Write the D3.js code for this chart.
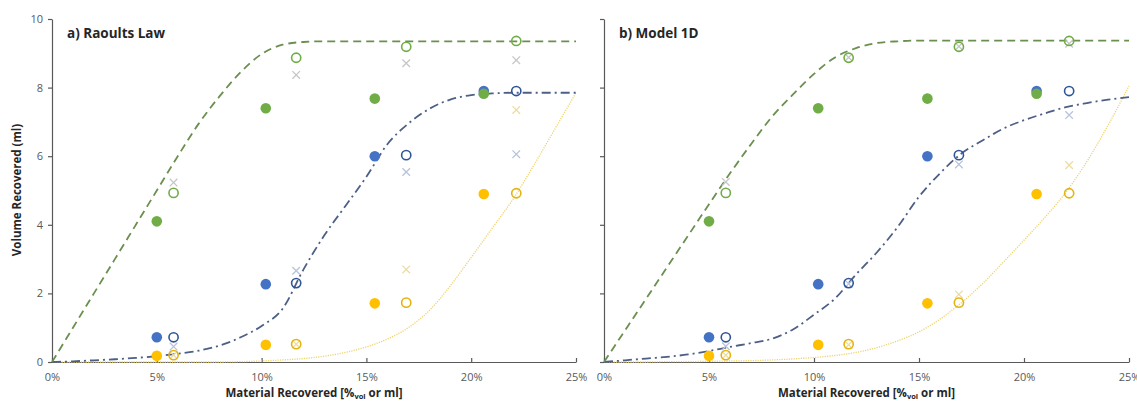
<!DOCTYPE html>
<html>
<head>
<meta charset="utf-8">
<script src="https://cdn.jsdelivr.net/npm/d3@7"></script>
<style>
  html, body { margin: 0; padding: 0; background: #fff; }
  svg { display: block; }
</style>
</head>
<body>
<svg id="chart" width="1137" height="403"></svg>
<script>
// ---------- data ----------
const xTicks = [0, 5, 10, 15, 20, 25];
const yTicks = [0, 2, 4, 6, 8, 10];
const xTickLabels = ["0%", "5%", "10%", "15%", "20%", "25%"];
const yTickLabels = ["0", "2", "4", "6", "8", "10"];
const panelTitles = ["a) Raoults Law", "b) Model 1D"];

// experiment points (filled circles)
const filledX = [5.0, 10.2, 15.4, 20.6];
const filledGreen = [4.1, 7.4, 7.68, 7.82];
const filledBlue = [0.72, 2.27, 6.0, 7.9];
const filledYellow = [0.18, 0.5, 1.71, 4.9];

// second experiment (open circles)
const openX = [5.8, 11.65, 16.9, 22.15];
const openGreen = [4.93, 8.87, 9.19, 9.36];
const openBlue = [0.72, 2.3, 6.03, 7.9];
const openYellow = [0.2, 0.52, 1.73, 4.92];

// model predictions (crosses)
const crossGreenA = [5.23, 8.37, 8.71, 8.8];
const crossBlueA = [0.45, 2.66, 5.54, 6.06];
const crossYellowA = [0.2, 0.52, 2.7, 7.35];
const crossGreenB = [5.25, 8.88, 9.2, 9.28];
const crossBlueB = [0.46, 2.28, 5.76, 7.2];
const crossYellowB = [0.2, 0.5, 1.97, 5.74];

// model curves
const curveX = [0,1,2,3,4,5,6,7,8,9,10,11,12,13,14,15,16,17,18,19,20,21,22,23,24,25];
const curveGreenA = [0,1.0,2.0,3.0,4.0,5.0,6.0,6.95,7.75,8.45,8.98,9.25,9.33,9.35,9.35,9.35,9.35,9.35,9.35,9.35,9.35,9.35,9.35,9.35,9.35,9.35];
const curveBlueA = [0,0.02,0.05,0.08,0.12,0.17,0.24,0.33,0.48,0.72,1.05,1.55,2.7,3.7,4.55,5.4,6.35,6.95,7.38,7.65,7.78,7.83,7.85,7.85,7.85,7.85];
const curveYellowA = [0,0,0,0,0,0,0,0,0,0.01,0.03,0.06,0.1,0.17,0.28,0.44,0.67,1.0,1.5,2.22,3.05,3.9,4.75,5.75,6.8,7.85];
const curveGreenB = [0,0.92,1.84,2.76,3.68,4.6,5.5,6.35,7.15,7.8,8.4,8.88,9.15,9.3,9.35,9.37,9.37,9.37,9.37,9.37,9.37,9.37,9.37,9.37,9.37,9.37];
const curveBlueB = [0,0.05,0.1,0.15,0.22,0.32,0.44,0.55,0.68,0.95,1.38,1.85,2.55,3.2,3.95,4.82,5.5,6.07,6.45,6.8,7.05,7.25,7.43,7.55,7.65,7.72];
const curveYellowB = [0,0,0,0.01,0.01,0.02,0.03,0.04,0.06,0.09,0.13,0.19,0.28,0.42,0.62,0.88,1.25,1.72,2.27,2.9,3.55,4.22,4.95,5.85,6.9,8.05];

// ---------- styling ----------
const C = {
  green: "#70ad47", blue: "#4472c4", yellow: "#ffc000",
  openGreen: "#70ad47", openBlue: "#2f5597", openYellow: "#e3b30e",
  crossGreen: "#c6c6c6", crossBlue: "#b9c3dc", crossYellow: "#ecdca2",
  lineGreen: "#6a8f4e", lineBlue: "#4d5f86", lineYellow: "#efd36a",
  axis: "#595959", text: "#595959", title: "#262626"
};
const FONT = "'Open Sans', 'Noto Sans', sans-serif";

const svg = d3.select("#chart");
const yRange = [362, 19];

const panels = [
  { x0: 52, x1: 576, title: panelTitles[0], showYLabels: true,
    cg: curveGreenA, cb: curveBlueA, cy: curveYellowA,
    xg: crossGreenA, xb: crossBlueA, xy: crossYellowA },
  { x0: 604, x1: 1129, title: panelTitles[1], showYLabels: false,
    cg: curveGreenB, cb: curveBlueB, cy: curveYellowB,
    xg: crossGreenB, xb: crossBlueB, xy: crossYellowB }
];

panels.forEach((p) => {
  const x = d3.scaleLinear().domain([0, 25]).range([p.x0, p.x1]);
  const y = d3.scaleLinear().domain([0, 10]).range(yRange);
  const g = svg.append("g");

  // axes
  const yAxis = d3.axisLeft(y).tickValues(yTicks).tickSize(4).tickSizeOuter(0)
    .tickFormat((d, i) => p.showYLabels ? yTickLabels[i] : "");
  const ya = g.append("g").attr("transform", `translate(${p.x0},0)`).call(yAxis);
  ya.select(".domain").attr("stroke", C.axis).attr("stroke-width", 1.2);
  ya.selectAll(".tick line").attr("stroke", C.axis).attr("stroke-width", 1.2);
  ya.selectAll(".tick text").attr("fill", C.text).attr("font-family", FONT)
    .attr("font-size", 11).attr("x", -9);

  const xAxis = d3.axisBottom(x).tickValues(xTicks).tickSize(-4).tickSizeOuter(0)
    .tickFormat((d, i) => xTickLabels[i]);
  const xa = g.append("g").attr("transform", `translate(0,${yRange[0]})`).call(xAxis);
  xa.select(".domain").attr("stroke", C.axis).attr("stroke-width", 1.2);
  xa.selectAll(".tick line").attr("stroke", C.axis).attr("stroke-width", 1.2);
  xa.selectAll(".tick text").attr("fill", C.text).attr("font-family", FONT)
    .attr("font-size", 11).attr("y", 11);

  // curves
  const line = d3.line().x((d, i) => x(curveX[i])).y(d => y(d)).curve(d3.curveMonotoneX);
  g.append("path").datum(p.cy).attr("d", line).attr("fill", "none")
    .attr("stroke", C.lineYellow).attr("stroke-width", 1.3).attr("stroke-dasharray", "1.2,1.2");
  g.append("path").datum(p.cb).attr("d", line).attr("fill", "none")
    .attr("stroke", C.lineBlue).attr("stroke-width", 1.8).attr("stroke-dasharray", "9,4,2,4");
  g.append("path").datum(p.cg).attr("d", line).attr("fill", "none")
    .attr("stroke", C.lineGreen).attr("stroke-width", 1.8).attr("stroke-dasharray", "8,5");

  // crosses
  const cross = (vals, color) => {
    const s = 3.8;
    g.append("g").selectAll("path").data(vals).join("path")
      .attr("d", (d, i) => {
        const cx = x(openX[i]), cy = y(d);
        return `M${cx - s},${cy - s}L${cx + s},${cy + s}M${cx - s},${cy + s}L${cx + s},${cy - s}`;
      })
      .attr("stroke", color).attr("stroke-width", 1.3).attr("fill", "none");
  };
  cross(p.xy, C.crossYellow);
  cross(p.xb, C.crossBlue);
  cross(p.xg, C.crossGreen);

  // open circles
  const open = (vals, color) => {
    g.append("g").selectAll("circle").data(vals).join("circle")
      .attr("cx", (d, i) => x(openX[i])).attr("cy", d => y(d)).attr("r", 4.6)
      .attr("fill", "none").attr("stroke", color).attr("stroke-width", 1.6);
  };
  open(openYellow, C.openYellow);
  open(openBlue, C.openBlue);
  open(openGreen, C.openGreen);

  // filled circles
  const filled = (vals, color) => {
    g.append("g").selectAll("circle").data(vals).join("circle")
      .attr("cx", (d, i) => x(filledX[i])).attr("cy", d => y(d)).attr("r", 5.3)
      .attr("fill", color);
  };
  filled(filledYellow, C.yellow);
  filled(filledBlue, C.blue);
  filled(filledGreen, C.green);

  // panel title
  g.append("text").attr("x", p.x0 + 15).attr("y", 38)
    .attr("font-family", FONT).attr("font-weight", "bold").attr("font-size", 13.5)
    .attr("fill", C.title).text(p.title);

  // x axis title
  const t = g.append("text").attr("x", (p.x0 + p.x1) / 2).attr("y", 397)
    .attr("text-anchor", "middle").attr("font-family", FONT).attr("font-weight", "bold")
    .attr("font-size", 11.5).attr("fill", C.title);
  t.append("tspan").text("Material Recovered [%");
  t.append("tspan").attr("font-size", 7.5).attr("dy", 2).text("vol");
  t.append("tspan").attr("dy", -2).text(" or ml]");
});

// y axis title (left panel only)
svg.append("text").attr("transform", "translate(21,190) rotate(-90)")
  .attr("text-anchor", "middle").attr("font-family", FONT).attr("font-weight", "bold")
  .attr("font-size", 11.5).attr("fill", C.title).text("Volume Recovered (ml)");
</script>
</body>
</html>
